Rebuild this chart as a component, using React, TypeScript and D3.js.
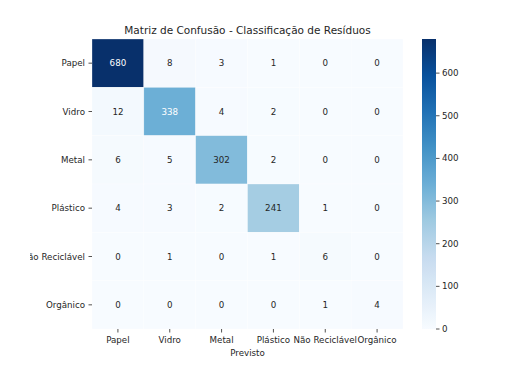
import { useMemo } from 'react'
import * as d3 from 'd3'

const labels = ['Papel', 'Vidro', 'Metal', 'Plástico', 'Não Reciclável', 'Orgânico']
const matrix = [
  [680, 8, 3, 1, 0, 0],
  [12, 338, 4, 2, 0, 0],
  [6, 5, 302, 2, 0, 0],
  [4, 3, 2, 241, 1, 0],
  [0, 1, 0, 1, 6, 0],
  [0, 0, 0, 0, 1, 4],
]
const colorTicks = [0, 100, 200, 300, 400, 500, 600]
// matplotlib "Blues" anchor colours (linear segmented)
const bluesAnchors = [
  '#f7fbff', '#deebf7', '#c6dbef', '#9ecae1', '#6baed6',
  '#4292c6', '#2171b5', '#08519c', '#08306b',
]

const W = 518
const H = 374
const margin = { top: 39, left: 92, right: 115, bottom: 45 }
const FONT = 'DejaVu Sans, sans-serif'
const FS = 8.7
// the figure itself starts a little in from the image edge, labels get cut there
const FIG_LEFT = 30

const blues = d3
  .scaleLinear<string>()
  .domain(bluesAnchors.map((_, i) => i / (bluesAnchors.length - 1)))
  .range(bluesAnchors)
  .interpolate(d3.interpolateRgb)
  .clamp(true)

// matplotlib-style relative luminance for choosing annotation colour
const luminance = (c: string) => {
  const rgb = d3.rgb(c)
  const ch = [rgb.r, rgb.g, rgb.b].map((v) => {
    const s = v / 255
    return s <= 0.03928 ? s / 12.92 : Math.pow((s + 0.055) / 1.055, 2.4)
  })
  return 0.2126 * ch[0] + 0.7152 * ch[1] + 0.0722 * ch[2]
}

export default function App() {
  const innerW = W - margin.left - margin.right
  const innerH = H - margin.top - margin.bottom

  const { x, y, color, cb } = useMemo(() => {
    const vmax = d3.max(matrix.flat()) || 1
    return {
      x: d3.scaleBand().domain(labels).range([0, innerW]),
      y: d3.scaleBand().domain(labels).range([0, innerH]),
      color: (v: number) => blues(v / vmax),
      cb: d3.scaleLinear().domain([0, vmax]).range([innerH, 0]),
    }
  }, [innerW, innerH])

  const cbX = margin.left + innerW + 19
  const cbW = 14
  const stops = d3.range(0, 1.0001, 0.025)

  return (
    <svg
      width={W}
      height={H}
      style={{ position: 'absolute', left: 0, top: 0, background: '#fff' }}
      fontFamily={FONT}
    >
      <defs>
        <linearGradient id="cbgrad" x1="0" y1="1" x2="0" y2="0">
          {stops.map((s) => (
            <stop key={s} offset={s} stopColor={blues(s)} />
          ))}
        </linearGradient>
        <clipPath id="figclip">
          <rect x={FIG_LEFT} y={0} width={W - FIG_LEFT} height={H} />
        </clipPath>
      </defs>

      <g clipPath="url(#figclip)">
        <text
          x={margin.left + innerW / 2}
          y={34}
          textAnchor="middle"
          fontSize={10.5}
          fill="#262626"
        >
          Matriz de Confusão - Classificação de Resíduos
        </text>

        <g transform={`translate(${margin.left},${margin.top})`}>
          {matrix.map((row, i) =>
            row.map((v, j) => {
              const fill = color(v)
              return (
                <g key={`${i}-${j}`}>
                  <rect
                    x={x(labels[j])}
                    y={y(labels[i])}
                    width={x.bandwidth()}
                    height={y.bandwidth()}
                    fill={fill}
                    stroke="#ffffff"
                    strokeOpacity={0.6}
                    strokeWidth={0.5}
                  />
                  <text
                    x={(x(labels[j]) || 0) + x.bandwidth() / 2}
                    y={(y(labels[i]) || 0) + y.bandwidth() / 2}
                    dy="0.35em"
                    textAnchor="middle"
                    fontSize={FS}
                    fill={luminance(fill) > 0.408 ? '#262626' : '#ffffff'}
                  >
                    {v}
                  </text>
                </g>
              )
            })
          )}

          <g fontSize={FS} fill="#262626">
            {labels.map((l) => {
              const cy = (y(l) || 0) + y.bandwidth() / 2
              return (
                <g key={`y-${l}`}>
                  <line x1={-3.5} x2={0} y1={cy} y2={cy} stroke="#262626" strokeWidth={0.8} />
                  <text x={-7} y={cy} dy="0.35em" textAnchor="end">
                    {l}
                  </text>
                </g>
              )
            })}
            {labels.map((l) => {
              const cx = (x(l) || 0) + x.bandwidth() / 2
              return (
                <g key={`x-${l}`}>
                  <line x1={cx} x2={cx} y1={innerH} y2={innerH + 3.5} stroke="#262626" strokeWidth={0.8} />
                  <text x={cx} y={innerH + 13.5} textAnchor="middle">
                    {l}
                  </text>
                </g>
              )
            })}
          </g>

          <text
            x={innerW / 2}
            y={innerH + 27}
            textAnchor="middle"
            fontSize={FS}
            fill="#262626"
          >
            Previsto
          </text>
        </g>

        <g transform={`translate(${cbX},${margin.top})`}>
          <rect x={0} y={0} width={cbW} height={innerH} fill="url(#cbgrad)" />
          <g fontSize={FS} fill="#262626">
            {colorTicks.map((t) => (
              <g key={`cb-${t}`}>
                <line x1={cbW} x2={cbW + 3.5} y1={cb(t)} y2={cb(t)} stroke="#262626" strokeWidth={0.8} />
                <text x={cbW + 6} y={cb(t)} dy="0.35em">
                  {t}
                </text>
              </g>
            ))}
          </g>
        </g>
      </g>
    </svg>
  )
}
